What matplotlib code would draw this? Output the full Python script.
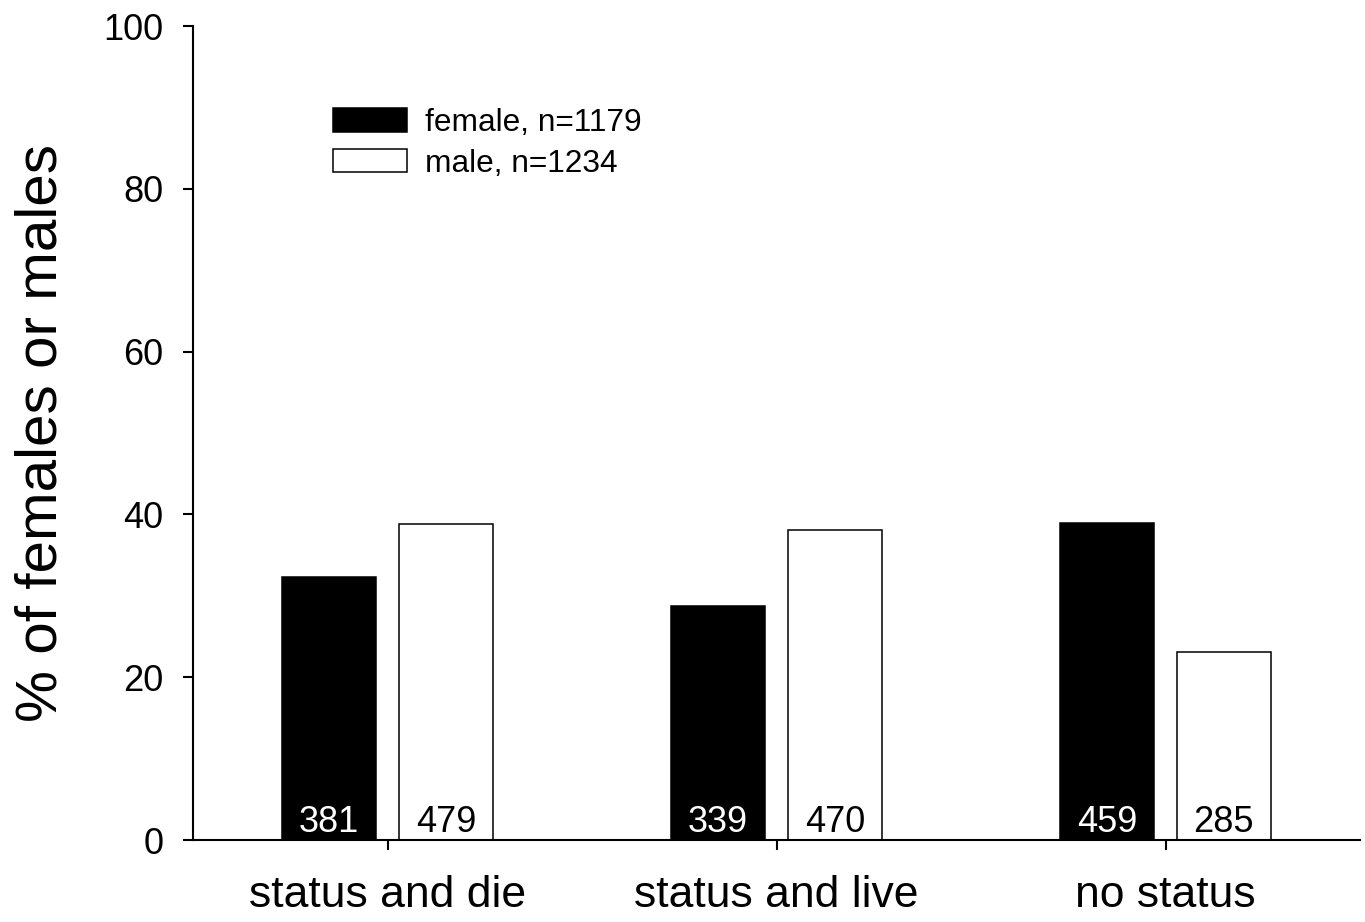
import matplotlib
matplotlib.use("Agg")
import matplotlib.pyplot as plt
import numpy as np

plt.rcParams['font.family'] = ['Liberation Sans', 'DejaVu Sans']

categories = ["status and die", "status and live", "no status"]
female_counts = [381, 339, 459]
male_counts = [479, 470, 285]
female_total = 1179
male_total = 1234

female_pct = np.array(female_counts) / female_total * 100
male_pct = np.array(male_counts) / male_total * 100

x = np.arange(len(categories))
w = 0.24
off = 0.15

fig = plt.figure(figsize=(13.65, 9.22), dpi=100)
ax = fig.add_axes([193 / 1365, 82 / 922, 1167 / 1365, 814 / 922])

ax.bar(x - off, female_pct, w, color='black', edgecolor='black', linewidth=1.1,
       label=f"female, n={female_total}")
ax.bar(x + off, male_pct, w, color='white', edgecolor='black', linewidth=1.1,
       label=f"male, n={male_total}")

# counts written at the foot of each bar
for xi, c in zip(x - off, female_counts):
    ax.text(xi, 1.0, str(c), ha='center', va='baseline', color='white', fontsize=26)
for xi, c in zip(x + off, male_counts):
    ax.text(xi, 1.0, str(c), ha='center', va='baseline', color='black', fontsize=26)

ax.set_xlim(-0.5, 2.5)
ax.set_ylim(0, 100)
ax.set_yticks([0, 20, 40, 60, 80, 100])
ax.set_xticks(x)
ax.set_xticklabels(categories, fontsize=32)
ax.tick_params(axis='y', labelsize=26, length=7.2, width=1.5, pad=14, direction='out')
ax.tick_params(axis='x', length=7.2, width=1.5, pad=18, direction='out')

for s in ['top', 'right']:
    ax.spines[s].set_visible(False)
for s in ['left', 'bottom']:
    ax.spines[s].set_linewidth(1.5)

ax.set_ylabel("% of females or males", fontsize=42)
ax.yaxis.set_label_coords(-0.107, 0.5)

ax.legend(loc='upper left', bbox_to_anchor=(0.12, 0.899), frameon=False, fontsize=22.8,
          borderpad=0, borderaxespad=0, handlelength=2.35, handleheight=0.76,
          handletextpad=0.56, labelspacing=0.33)

fig.savefig("out.png", dpi=100)
